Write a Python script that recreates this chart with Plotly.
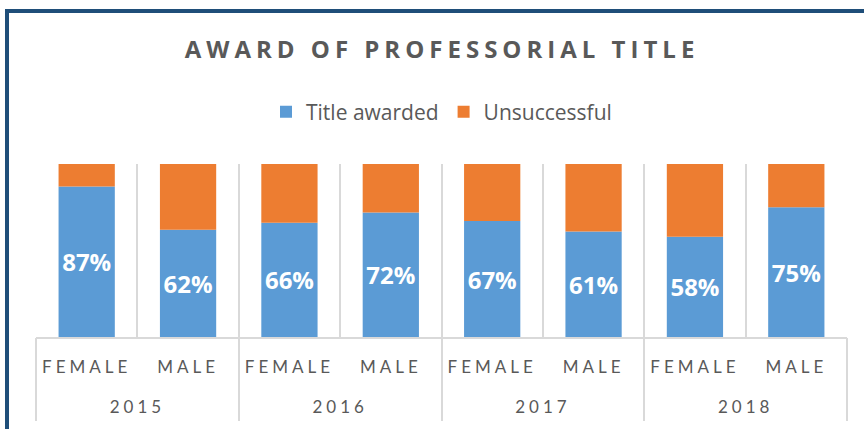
import plotly.graph_objects as go

years = ["2015", "2016", "2017", "2018"]
genders = ["FEMALE", "MALE", "FEMALE", "MALE", "FEMALE", "MALE", "FEMALE", "MALE"]
awarded = [87, 62, 66, 72, 67, 61, 58, 75]
unsuccessful = [13, 38, 34, 28, 33, 39, 42, 25]

BLUE = "#5B9BD5"
ORANGE = "#ED7D31"
GRAY = "#595959"
GRID = "#D9D9D9"

n = len(genders)
per_year = n // len(years)
xpos = list(range(n))
boundaries = [i - 0.5 for i in range(n + 1)]
year_centers = [k * per_year + (per_year - 1) / 2 for k in range(len(years))]
year_bounds = [k * per_year - 0.5 for k in range(len(years) + 1)]

fig = go.Figure()
fig.add_trace(go.Bar(
    x=xpos, y=awarded, name="Title awarded",
    marker=dict(color=BLUE, line=dict(width=0)),
    texttemplate="%{y}%", textposition="inside", insidetextanchor="middle",
    constraintext="none", textangle=0,
    textfont=dict(family="Open Sans", size=24, color="white", weight="bold"),
))
# stacked on top of the awarded share; lives on the year axis so that axis is drawn
fig.add_trace(go.Bar(
    x=xpos, y=unsuccessful, base=awarded, name="Unsuccessful",
    xaxis="x2",
    marker=dict(color=ORANGE, line=dict(width=0)),
    hoverinfo="skip",
))

L, R, T, B = 36, 17, 164, 92
H = 429 - T - B
W = 864 - L - R
XR = [-0.5, n - 0.5]

fig.update_layout(
    width=864, height=429,
    margin=dict(l=L, r=R, t=T, b=B, pad=0, autoexpand=False),
    barmode="overlay", bargap=0.445,
    paper_bgcolor="white", plot_bgcolor="white",
    showlegend=True,
    title=dict(
        text="<b>AWARD OF PROFESSORIAL TITLE</b>",
        font=dict(family="Open Sans", size=24, color=GRAY),
        x=442 / 864, xanchor="center", xref="container",
        y=1 - 50 / 429, yanchor="middle", yref="container",
    ),
    legend=dict(
        orientation="h", x=0.5, xanchor="center",
        y=(337 - 112) / H, yanchor="middle",
        font=dict(family="Open Sans", size=21, color=GRAY),
        traceorder="normal", bgcolor="rgba(0,0,0,0)",
        itemwidth=30,
    ),
    xaxis=dict(
        range=XR, automargin=False, fixedrange=True,
        tickmode="array", tickvals=xpos, ticktext=genders,
        ticks="", showgrid=False, zeroline=False,
        showline=True, linecolor=GRID, linewidth=1.5,
        ticklabelstandoff=14,
        tickfont=dict(family="Lato", size=17, color=GRAY),
        minor=dict(tickmode="array", tickvals=boundaries, showgrid=True,
                   gridcolor=GRID, gridwidth=1.5, ticks=""),
    ),
    xaxis2=dict(
        overlaying="x", anchor="y", side="bottom",
        range=XR, automargin=False, fixedrange=True,
        tickmode="array", tickvals=year_centers, ticktext=years,
        ticks="", showgrid=False, zeroline=False, showline=False,
        ticklabelstandoff=58,
        tickfont=dict(family="Lato", size=17, color=GRAY),
        minor=dict(tickmode="array", tickvals=year_bounds, ticks="outside",
                   ticklen=83, tickwidth=1.5, tickcolor=GRID, showgrid=False),
    ),
    yaxis=dict(
        range=[0, 100], visible=False, showgrid=False, zeroline=False,
        fixedrange=True,
    ),
)

fig.add_shape(
    type="rect", xref="paper", yref="paper",
    x0=(7 - L) / W, x1=(880 - L) / W,
    y0=(337 - 450) / H, y1=(337 - 11) / H,
    line=dict(color="#1F4E79", width=4), fillcolor="rgba(0,0,0,0)",
    layer="above",
)

post = """
document.body.style.margin='0';
var s=document.createElement('style');
s.innerHTML='.gtitle{letter-spacing:5px} .xtick text, .x2tick text{letter-spacing:4px}';
document.head.appendChild(s);
"""
fig.write_html("out.html", post_script=post, config={"displayModeBar": False})
